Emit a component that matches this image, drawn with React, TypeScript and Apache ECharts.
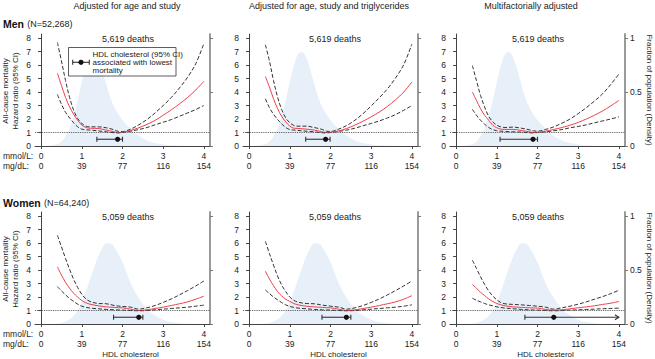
import React, { useEffect, useRef } from "react";
import * as echarts from "echarts";

// ---------- data ----------
const TITLES = ["Adjusted for age and study", "Adjusted for age, study and triglycerides", "Multifactorially adjusted"];
const ROW_LABELS = [{ sex: "Men", n: "(N=52,268)", deaths: "5,619 deaths" }, { sex: "Women", n: "(N=64,240)", deaths: "5,059 deaths" }];
const MMOL_TICKS = [0, 1, 2, 3, 4];
const MGDL_TICKS = ["0", "39", "77", "116", "154"];
const HR_TICKS = [0, 1, 2, 3, 4, 5, 6, 7, 8];
const DENS_TICKS = [0, 0.5, 1];

const HR_X = [0.4, 0.5, 0.6, 0.7, 0.8, 0.9, 1.0, 1.1, 1.2, 1.4, 1.6, 1.8, 1.9, 2.0, 2.2, 2.4, 2.6, 2.8, 3.0, 3.2, 3.4, 3.6, 3.8, 4.0];

// Men, adjusted for age and study
const P1_HR = [5.4, 4.48, 3.6, 2.9, 2.35, 1.9, 1.55, 1.37, 1.32, 1.3, 1.18, 1.05, 1.0, 1.02, 1.15, 1.35, 1.6, 1.9, 2.28, 2.68, 3.12, 3.6, 4.15, 4.8];
const P1_UP = [7.67, 6.3, 4.85, 3.6, 2.65, 2.03, 1.67, 1.47, 1.42, 1.42, 1.35, 1.2, 1.08, 1.07, 1.25, 1.57, 1.96, 2.45, 3.0, 3.6, 4.3, 5.1, 6.1, 7.6];
const P1_LO = [3.82, 3.1, 2.5, 2.08, 1.72, 1.42, 1.25, 1.2, 1.18, 1.12, 1.05, 0.98, 0.97, 1.0, 1.1, 1.22, 1.37, 1.57, 1.76, 1.96, 2.2, 2.45, 2.7, 3.0];
// Men, age, study and triglycerides
const P2_HR = [5.15, 4.36, 3.5, 2.77, 2.2, 1.79, 1.47, 1.32, 1.3, 1.25, 1.18, 1.05, 1.0, 1.02, 1.12, 1.3, 1.55, 1.84, 2.16, 2.52, 2.94, 3.43, 4.0, 4.75];
const P2_UP = [7.5, 6.3, 4.85, 3.63, 2.7, 2.08, 1.72, 1.52, 1.47, 1.47, 1.37, 1.22, 1.1, 1.08, 1.25, 1.52, 1.91, 2.4, 2.97, 3.58, 4.24, 5.05, 6.03, 7.55];
const P2_LO = [3.5, 2.84, 2.35, 1.96, 1.64, 1.37, 1.22, 1.18, 1.15, 1.1, 1.05, 0.98, 0.97, 1.0, 1.08, 1.18, 1.32, 1.5, 1.67, 1.86, 2.08, 2.33, 2.65, 3.0];
// Men, multifactorially adjusted
const P3_HR = [4.0, 3.38, 2.77, 2.28, 1.91, 1.54, 1.35, 1.25, 1.23, 1.23, 1.15, 1.05, 1.0, 1.02, 1.1, 1.23, 1.37, 1.54, 1.75, 2.0, 2.28, 2.6, 2.97, 3.38];
const P3_UP = [5.96, 4.85, 3.75, 2.9, 2.2, 1.79, 1.54, 1.42, 1.37, 1.4, 1.32, 1.2, 1.12, 1.1, 1.23, 1.42, 1.69, 2.0, 2.4, 2.84, 3.33, 3.87, 4.56, 5.34];
const P3_LO = [2.72, 2.28, 1.91, 1.62, 1.37, 1.22, 1.13, 1.1, 1.08, 1.05, 1.03, 0.98, 0.97, 1.0, 1.05, 1.13, 1.22, 1.35, 1.45, 1.57, 1.72, 1.86, 2.0, 2.16];
// Women, adjusted for age and study
const P4_HR = [4.24, 3.63, 3.09, 2.65, 2.28, 1.99, 1.74, 1.57, 1.47, 1.35, 1.27, 1.23, 1.21, 1.2, 1.1, 1.0, 1.05, 1.15, 1.25, 1.37, 1.5, 1.64, 1.84, 2.06];
const P4_UP = [6.57, 5.72, 4.86, 4.05, 3.31, 2.7, 2.2, 1.86, 1.67, 1.52, 1.5, 1.37, 1.33, 1.3, 1.25, 1.1, 1.2, 1.37, 1.6, 1.86, 2.16, 2.48, 2.82, 3.19];
const P4_LO = [2.77, 2.45, 2.16, 1.89, 1.67, 1.47, 1.32, 1.24, 1.18, 1.13, 1.08, 1.05, 1.04, 1.03, 1.0, 0.98, 1.0, 1.05, 1.1, 1.15, 1.2, 1.25, 1.32, 1.4];
// Women, age, study and triglycerides
const P5_HR = [3.92, 3.33, 2.84, 2.4, 2.08, 1.84, 1.67, 1.52, 1.42, 1.32, 1.27, 1.23, 1.21, 1.2, 1.1, 1.0, 1.05, 1.15, 1.25, 1.37, 1.5, 1.64, 1.84, 2.1];
const P5_UP = [6.13, 5.22, 4.36, 3.55, 2.89, 2.4, 2.0, 1.76, 1.62, 1.52, 1.5, 1.4, 1.36, 1.32, 1.25, 1.1, 1.2, 1.37, 1.6, 1.86, 2.16, 2.48, 2.82, 3.19];
const P5_LO = [2.52, 2.25, 2.0, 1.79, 1.59, 1.42, 1.3, 1.23, 1.18, 1.13, 1.08, 1.05, 1.04, 1.03, 1.0, 0.98, 1.0, 1.05, 1.1, 1.15, 1.2, 1.25, 1.32, 1.42];
// Women, multifactorially adjusted
const P6_HR = [2.94, 2.65, 2.35, 2.11, 1.86, 1.67, 1.52, 1.42, 1.35, 1.27, 1.23, 1.2, 1.19, 1.18, 1.08, 1.03, 1.05, 1.13, 1.2, 1.27, 1.35, 1.45, 1.54, 1.67];
const P6_UP = [4.73, 4.12, 3.5, 2.94, 2.45, 2.08, 1.79, 1.59, 1.5, 1.45, 1.42, 1.37, 1.35, 1.32, 1.25, 1.1, 1.2, 1.32, 1.47, 1.64, 1.84, 2.03, 2.25, 2.5];
const P6_LO = [1.91, 1.76, 1.64, 1.52, 1.42, 1.35, 1.27, 1.22, 1.18, 1.13, 1.08, 1.05, 1.04, 1.03, 1.0, 0.98, 1.0, 1.03, 1.05, 1.08, 1.1, 1.13, 1.15, 1.18];

// population density (fraction of population)
const DENS_X = [0.2, 0.4, 0.5, 0.6, 0.7, 0.8, 0.9, 1.0, 1.1, 1.2, 1.3, 1.4, 1.5, 1.6, 1.7, 1.8, 2.0, 2.2, 2.4, 2.6, 2.8, 3.0, 3.2, 3.5, 4.0];
const DENS_MEN = [0.0025, 0.019, 0.04, 0.09, 0.16, 0.28, 0.42, 0.59, 0.74, 0.85, 0.87, 0.82, 0.71, 0.575, 0.45, 0.36, 0.24, 0.16, 0.094, 0.052, 0.028, 0.015, 0.0075, 0.0025, 0];
const DENS_WOMEN = [0, 0.004, 0.01, 0.025, 0.045, 0.075, 0.125, 0.2, 0.3, 0.41, 0.52, 0.62, 0.7, 0.745, 0.745, 0.71, 0.57, 0.38, 0.24, 0.14, 0.08, 0.04, 0.018, 0.004, 0];

// HDL cholesterol (95% CI) associated with lowest mortality
const OPT_LO = [1.37, 1.39, 1.08, 1.78, 1.79, 1.69];
const OPT_PT = [1.88, 1.88, 1.89, 2.4, 2.39, 2.4];
const OPT_HI = [2.0, 1.99, 2.0, 2.5, 2.5, 4.0];
const OPT_OPEN = [0, 0, 0, 0, 0, 1];

const PANEL_HR = [P1_HR, P2_HR, P3_HR, P4_HR, P5_HR, P6_HR];
const PANEL_UP = [P1_UP, P2_UP, P3_UP, P4_UP, P5_UP, P6_UP];
const PANEL_LO = [P1_LO, P2_LO, P3_LO, P4_LO, P5_LO, P6_LO];

// ---------- layout / style ----------
const FONT = "Liberation Sans, Arial, Helvetica, sans-serif";
const COL_LEFT = [35, 243, 450];
const ROW_TOP = [34, 212];
const GRID_W = 175;
const GRID_H = 112;
const X_MIN = -0.15, X_MAX = 4.15;
const Y_MAX = 8.3;
const CI_Y = 0.5;
const TXT = "#222";
const AX = "#444";

const zip = (xs: number[], ys: number[]) => xs.map((x, i) => [x, ys[i]]);

function buildOption() {
  const grid: any[] = [], xAxis: any[] = [], yAxis: any[] = [], series: any[] = [];
  for (let p = 0; p < 6; p++) {
    const row = Math.floor(p / 3), col = p % 3;
    grid.push({ left: COL_LEFT[col], top: ROW_TOP[row], width: GRID_W, height: GRID_H });
    xAxis.push({
      type: "value", gridIndex: p, min: X_MIN, max: X_MAX,
      axisLine: { lineStyle: { color: AX, width: 1 } },
      axisTick: { show: true, length: 3, customValues: MMOL_TICKS, lineStyle: { color: AX } },
      splitLine: { show: false },
      axisLabel: {
        customValues: MMOL_TICKS, margin: 5, fontSize: 8.5, lineHeight: 10, color: TXT, fontFamily: FONT,
        formatter: (v: number) => `${v}\n${MGDL_TICKS[MMOL_TICKS.indexOf(v)]}`,
      },
    });
    yAxis.push({
      type: "value", gridIndex: p, min: 0, max: Y_MAX, position: "left",
      axisLine: { show: true, lineStyle: { color: AX, width: 1 } },
      axisTick: { show: true, length: 3, customValues: HR_TICKS, lineStyle: { color: AX } },
      splitLine: { show: false },
      axisLabel: { customValues: HR_TICKS, margin: 4, fontSize: 8.5, color: TXT, fontFamily: FONT },
    });
    yAxis.push({
      type: "value", gridIndex: p, min: 0, max: Y_MAX / 8, position: "right",
      axisLine: { show: true, lineStyle: { color: "#9a9a9a", width: 2 } },
      axisTick: { show: true, length: 3, customValues: DENS_TICKS, lineStyle: { color: "#777" } },
      splitLine: { show: false },
      axisLabel: { show: col === 2, customValues: DENS_TICKS, margin: 5, fontSize: 8.5, color: TXT, fontFamily: FONT },
    });
    const dens = row === 0 ? DENS_MEN : DENS_WOMEN;
    series.push({
      type: "line", xAxisIndex: p, yAxisIndex: 2 * p + 1, data: zip(DENS_X, dens), smooth: 0.4,
      symbol: "none", lineStyle: { width: 0 }, areaStyle: { color: "#e7eff9", opacity: 1 }, z: 1, silent: true,
    });
    series.push({
      type: "line", xAxisIndex: p, yAxisIndex: 2 * p, data: zip(HR_X, PANEL_UP[p]), smooth: 0.35,
      symbol: "none", lineStyle: { color: "#333", width: 1, type: [4, 2] }, z: 3,
    });
    series.push({
      type: "line", xAxisIndex: p, yAxisIndex: 2 * p, data: zip(HR_X, PANEL_LO[p]), smooth: 0.35,
      symbol: "none", lineStyle: { color: "#333", width: 1, type: [4, 2] }, z: 3,
    });
    series.push({
      type: "line", xAxisIndex: p, yAxisIndex: 2 * p, data: zip(HR_X, PANEL_HR[p]), smooth: 0.35,
      symbol: "none", lineStyle: { color: "#ee4048", width: 1 }, z: 4,
      markLine: {
        silent: true, symbol: ["none", "none"], label: { show: false }, animation: false,
        lineStyle: { type: "dotted", color: "#444", width: 0.9 }, data: [{ yAxis: 1 }],
      },
    });
    series.push({
      type: "custom", xAxisIndex: p, yAxisIndex: 2 * p, z: 5,
      data: [[OPT_LO[p], OPT_HI[p], OPT_PT[p], CI_Y, OPT_OPEN[p]]],
      encode: { x: [0, 1, 2], y: 3 },
      renderItem: (_params: any, api: any) => {
        const y = api.value(3);
        const a = api.coord([api.value(0), y]);
        const b = api.coord([api.value(1), y]);
        const c = api.coord([api.value(2), y]);
        const st = { stroke: "#333", lineWidth: 1.1, fill: "none" };
        const children: any[] = [
          { type: "line", shape: { x1: a[0], y1: a[1], x2: b[0], y2: b[1] }, style: st },
          { type: "line", shape: { x1: a[0], y1: a[1] - 2.5, x2: a[0], y2: a[1] + 2.5 }, style: st },
        ];
        if (api.value(4) === 1) {
          children.push({ type: "polyline", shape: { points: [[b[0] - 4, b[1] - 2.5], [b[0], b[1]], [b[0] - 4, b[1] + 2.5]] }, style: st });
        } else {
          children.push({ type: "line", shape: { x1: b[0], y1: b[1] - 2.5, x2: b[0], y2: b[1] + 2.5 }, style: st });
        }
        children.push({ type: "circle", shape: { cx: c[0], cy: c[1], r: 2.6 }, style: { fill: "#111" } });
        return { type: "group", children };
      },
    });
  }

  const txt = (x: number, y: number, text: string, extra: any = {}) => ({
    type: "text", x, y, z: 100,
    style: { text, fill: TXT, font: `9px ${FONT}`, align: "center", verticalAlign: "middle", ...extra },
  });

  const graphic: any[] = [];
  const titleX = [127, 329, 531];
  TITLES.forEach((t, i) => graphic.push(txt(titleX[i], 5.5, t, { font: `9px ${FONT}` })));
  const deathsX = [128, 335, 538];
  const rowLabelY = [24, 203];
  const deathsY = [38.5, 216.5];
  const unitsY = [146, 324];
  ROW_LABELS.forEach((r, row) => {
    graphic.push({
      type: "text", x: 3, y: rowLabelY[row], z: 100,
      style: {
        text: `{b|${r.sex}} {n|${r.n}}`, verticalAlign: "middle", align: "left",
        rich: {
          b: { font: `bold 10.5px ${FONT}`, fill: "#111" },
          n: { font: `9px ${FONT}`, fill: TXT },
        },
      },
    });
    deathsX.forEach((x) => graphic.push(txt(x, deathsY[row], r.deaths)));
    graphic.push(txt(3, unitsY[row] + 10, "mmol/L:", { align: "left", font: `8.5px ${FONT}` }));
    graphic.push(txt(3, unitsY[row] + 20, "mg/dL:", { align: "left", font: `8.5px ${FONT}` }));
    graphic.push({
      ...txt(10, ROW_TOP[row] + GRID_H / 2 + 1, "All-cause mortality\nHazard ratio (95% CI)", { font: `8px ${FONT}`, lineHeight: 10 }),
      rotation: Math.PI / 2,
    });
    graphic.push({
      ...txt(649, ROW_TOP[row] + GRID_H / 2, "Fraction of population (Density)", { font: `8px ${FONT}` }),
      rotation: -Math.PI / 2,
    });
  });
  COL_LEFT.forEach((l) => graphic.push(txt(l + GRID_W / 2 + 8, 354, "HDL cholesterol", { font: `8px ${FONT}` })));

  // legend box
  graphic.push({ type: "rect", z: 100, shape: { x: 68.5, y: 47.5, width: 107.5, height: 28.5 }, style: { fill: "#fff", stroke: "#333", lineWidth: 0.8 } });
  const ly = 62.3;
  graphic.push({ type: "line", z: 101, shape: { x1: 72.7, y1: ly, x2: 89.3, y2: ly }, style: { stroke: "#333", lineWidth: 1.1 } });
  graphic.push({ type: "line", z: 101, shape: { x1: 72.7, y1: ly - 2.5, x2: 72.7, y2: ly + 2.5 }, style: { stroke: "#333", lineWidth: 1.1 } });
  graphic.push({ type: "line", z: 101, shape: { x1: 89.3, y1: ly - 2.5, x2: 89.3, y2: ly + 2.5 }, style: { stroke: "#333", lineWidth: 1.1 } });
  graphic.push({ type: "circle", z: 101, shape: { cx: 81, cy: ly, r: 2.6 }, style: { fill: "#111" } });
  graphic.push({ ...txt(92.5, 54, "HDL cholesterol (95% CI)", { align: "left", font: `8px ${FONT}` }), z: 101 });
  graphic.push({ ...txt(92.5, 62.3, "associated with lowest", { align: "left", font: `8px ${FONT}` }), z: 101 });
  graphic.push({ ...txt(92.5, 70.7, "mortality", { align: "left", font: `8px ${FONT}` }), z: 101 });

  return { animation: false, backgroundColor: "#fff", grid, xAxis, yAxis, series, graphic };
}

export default function App() {
  const ref = useRef<HTMLDivElement>(null);
  useEffect(() => {
    if (!ref.current) return;
    const chart = echarts.init(ref.current, null, { renderer: "svg" });
    chart.setOption(buildOption() as any);
    return () => chart.dispose();
  }, []);
  return <div ref={ref} style={{ width: 655, height: 359, position: "absolute", left: 0, top: 0 }} />;
}
